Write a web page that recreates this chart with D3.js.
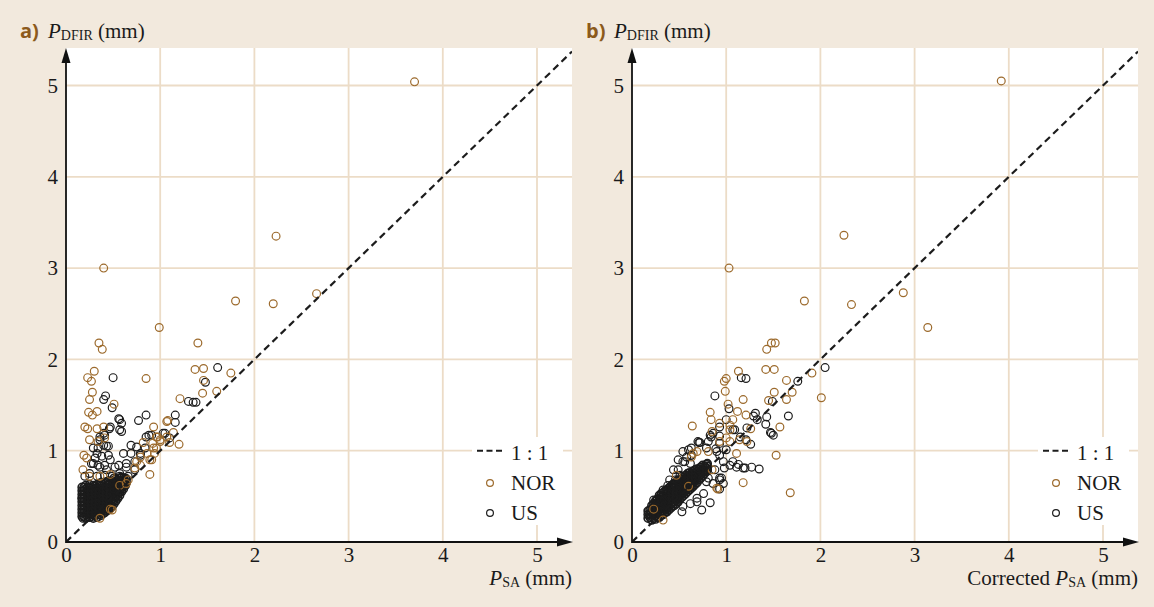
<!DOCTYPE html>
<html>
<head>
<meta charset="utf-8">
<script src="https://cdn.jsdelivr.net/npm/d3@7"></script>
<style>
    body { margin: 0; background: #f2e9dd; }
    svg { display: block; }
</style>
</head>
<body>
<div id="chart"></div>
<script>
//DATA
let xTicks = [0, 1, 2, 3, 4, 5];
let yTicks = [0, 1, 2, 3, 4, 5];
let legendLabels = ['1 : 1', 'NOR', 'US'];

// a) raw P_SA vs P_DFIR
let norA = [
    [3.70,5.04],[2.23,3.35],[0.40,3.00],[1.80,2.64],[2.20,2.61],[2.66,2.72],[0.99,2.35],[0.35,2.18],
    [0.385,2.11],[1.40,2.18],[1.37,1.89],[1.46,1.90],[1.75,1.85],[1.46,1.77],[0.30,1.87],[0.23,1.80],
    [0.27,1.76],[0.85,1.79],[0.28,1.64],[0.25,1.56],[0.51,1.51],[0.24,1.42],[0.28,1.39],[0.33,1.43],
    [1.21,1.57],[1.45,1.63],[1.60,1.65],[1.08,1.33],[0.93,1.26],[0.20,1.26],[0.23,1.24],[0.33,1.24],
    [0.40,1.26],[0.25,1.12],[0.34,1.10],[0.41,1.14],[0.96,1.15],[1.00,1.12],[1.07,1.15],[1.14,1.20],
    [1.20,1.07],[1.10,1.09],[0.82,1.09],[0.92,1.08],[0.96,1.03],[0.94,0.97],[0.91,0.90],[0.89,0.74],
    [0.75,0.88],[0.19,0.95],[0.22,0.92],[0.36,0.72],[0.47,0.74],[0.64,0.64],[0.49,0.35],[0.36,0.26],
    [0.47,0.36],[0.18,0.79],[0.25,0.72],[0.57,0.62],[0.66,0.68],[0.73,0.81],[0.79,0.84],[0.79,0.93],
    [0.86,0.97],[0.89,0.90],[0.93,1.03],[1.07,1.32],[0.97,1.15],[1.00,1.10]
];
let usA = [
    [0.50,1.80],[1.61,1.91],[1.48,1.75],[0.42,1.60],[0.40,1.56],[0.49,1.47],[0.56,1.35],[0.59,1.30],
    [0.57,1.23],[0.77,1.33],[0.85,1.39],[1.30,1.54],[1.35,1.53],[1.38,1.53],[1.16,1.39],[1.16,1.31],
    [0.46,1.24],[0.36,1.12],[0.41,1.17],[0.85,1.15],[0.88,1.17],[1.05,1.19],[0.61,0.97],[0.69,0.97],
    [0.75,1.04],[0.84,1.03],[0.69,1.06],[0.29,1.03],[0.34,1.03],[0.40,1.06],[0.45,1.05],[0.31,0.92],
    [0.38,0.94],[0.27,0.86],[0.34,0.84],[0.41,0.84],[0.47,0.90],[0.56,0.84],[0.64,0.82],[0.20,0.72],
    [0.25,0.75],[0.33,0.72],[0.41,0.73],[0.49,0.72],[0.57,0.72],[0.66,0.72],[0.73,0.79],[0.18,0.26],
    [0.57,1.34],[0.47,1.26],[0.59,1.21],[0.40,1.19],[0.36,1.15],[0.43,1.05],[0.33,0.97],[0.45,0.95],
    [0.29,0.86],[0.36,0.82],[0.43,0.79],[0.52,0.82],[0.79,0.97],[0.73,0.88],[0.64,0.86],[0.57,0.75],
    [0.91,1.17],[1.03,1.19],[1.10,1.14],[0.79,0.95],[0.17,0.48]
];
// dense core of US events near the origin (a)
let usCoreA = [
    [0.17,0.28],[0.17,0.32],[0.17,0.36],[0.17,0.40],[0.17,0.44],[0.17,0.48],[0.17,0.52],[0.17,0.56],[0.17,0.60],
    [0.21,0.26],[0.21,0.30],[0.21,0.34],[0.21,0.38],[0.21,0.42],[0.21,0.46],[0.21,0.50],[0.21,0.54],[0.21,0.58],[0.21,0.62],
    [0.25,0.27],[0.25,0.31],[0.25,0.35],[0.25,0.39],[0.25,0.43],[0.25,0.47],[0.25,0.51],[0.25,0.55],[0.25,0.59],[0.25,0.63],
    [0.29,0.26],[0.29,0.30],[0.29,0.34],[0.29,0.38],[0.29,0.42],[0.29,0.46],[0.29,0.50],[0.29,0.54],[0.29,0.58],[0.29,0.62],
    [0.33,0.27],[0.33,0.31],[0.33,0.35],[0.33,0.39],[0.33,0.43],[0.33,0.47],[0.33,0.51],[0.33,0.55],[0.33,0.59],[0.33,0.63],
    [0.37,0.29],[0.37,0.33],[0.37,0.37],[0.37,0.41],[0.37,0.45],[0.37,0.49],[0.37,0.53],[0.37,0.57],[0.37,0.61],[0.37,0.65],
    [0.41,0.32],[0.41,0.36],[0.41,0.40],[0.41,0.44],[0.41,0.48],[0.41,0.52],[0.41,0.56],[0.41,0.60],[0.41,0.64],
    [0.45,0.35],[0.45,0.39],[0.45,0.43],[0.45,0.47],[0.45,0.51],[0.45,0.55],[0.45,0.59],[0.45,0.63],[0.45,0.67],
    [0.49,0.39],[0.49,0.43],[0.49,0.47],[0.49,0.51],[0.49,0.55],[0.49,0.59],[0.49,0.63],[0.49,0.67],
    [0.53,0.45],[0.53,0.49],[0.53,0.53],[0.53,0.57],[0.53,0.61],[0.53,0.65],[0.53,0.69],
    [0.57,0.51],[0.57,0.55],[0.57,0.59],[0.57,0.63],[0.57,0.67],[0.57,0.70],
    [0.61,0.58],[0.61,0.62],[0.61,0.66],[0.61,0.70],
    [0.64,0.65],[0.64,0.69],
    [0.19,0.28],[0.19,0.32],[0.19,0.36],[0.19,0.40],[0.19,0.44],[0.19,0.48],[0.19,0.52],[0.19,0.56],[0.19,0.60],
    [0.23,0.28],[0.23,0.32],[0.23,0.36],[0.23,0.40],[0.23,0.44],[0.23,0.48],[0.23,0.52],[0.23,0.56],[0.23,0.60],
    [0.27,0.28],[0.27,0.32],[0.27,0.36],[0.27,0.40],[0.27,0.44],[0.27,0.48],[0.27,0.52],[0.27,0.56],[0.27,0.60],
    [0.31,0.29],[0.31,0.33],[0.31,0.37],[0.31,0.41],[0.31,0.45],[0.31,0.49],[0.31,0.53],[0.31,0.57],[0.31,0.61],
    [0.35,0.30],[0.35,0.34],[0.35,0.38],[0.35,0.42],[0.35,0.46],[0.35,0.50],[0.35,0.54],[0.35,0.58],[0.35,0.62],
    [0.39,0.31],[0.39,0.35],[0.39,0.39],[0.39,0.43],[0.39,0.47],[0.39,0.51],[0.39,0.55],[0.39,0.59],[0.39,0.63],
    [0.43,0.34],[0.43,0.38],[0.43,0.42],[0.43,0.46],[0.43,0.50],[0.43,0.54],[0.43,0.58],[0.43,0.62],[0.43,0.66],
    [0.47,0.37],[0.47,0.41],[0.47,0.45],[0.47,0.49],[0.47,0.53],[0.47,0.57],[0.47,0.61],[0.47,0.65],
    [0.51,0.42],[0.51,0.46],[0.51,0.50],[0.51,0.54],[0.51,0.58],[0.51,0.62],[0.51,0.66],[0.51,0.70],
    [0.55,0.48],[0.55,0.52],[0.55,0.56],[0.55,0.60],[0.55,0.64],[0.55,0.68],
    [0.59,0.55],[0.59,0.59],[0.59,0.63],[0.59,0.67],[0.59,0.71],
    [0.63,0.62],[0.63,0.66],[0.63,0.70]
];

// b) corrected P_SA vs P_DFIR
let norB = [
    [3.92,5.05],[2.25,3.36],[1.03,3.00],[1.83,2.64],[2.33,2.60],[2.88,2.73],[3.14,2.35],[1.91,1.85],
    [2.01,1.58],[1.43,2.11],[1.48,2.18],[1.52,2.18],[1.42,1.89],[1.51,1.89],[1.13,1.87],[1.00,1.79],
    [0.98,1.76],[1.64,1.77],[0.99,1.65],[1.18,1.56],[1.45,1.55],[1.51,1.64],[1.64,1.56],[1.70,1.64],
    [1.02,1.51],[1.12,1.43],[1.21,1.39],[1.57,1.26],[0.83,1.42],[0.84,1.34],[0.64,1.27],[0.93,1.30],
    [1.07,1.34],[1.26,1.24],[1.00,1.14],[1.04,1.23],[1.14,1.12],[1.53,0.95],[1.18,0.65],[1.68,0.54],
    [0.91,0.58],[0.63,0.93],[0.69,0.99],[0.47,0.73],[0.60,0.61],[0.85,0.79],[0.33,0.24],[0.23,0.36],
    [0.90,0.59],[0.85,1.21],[1.04,1.28],[1.04,1.10],[0.93,1.10],[0.81,0.99],[1.11,0.97],[1.22,1.10],
    [0.65,0.97]
];
let usB = [
    [2.05,1.91],[1.16,1.80],[1.21,1.79],[1.76,1.76],[0.88,1.60],[1.49,1.54],[1.03,1.46],[1.31,1.41],
    [1.43,1.37],[1.42,1.29],[1.66,1.38],[1.47,1.20],[1.50,1.17],[1.09,1.23],[1.21,1.12],[0.84,1.15],
    [0.93,1.16],[0.71,1.09],[1.26,1.07],[0.79,1.03],[0.89,1.02],[0.93,0.95],[1.13,0.85],[1.20,0.81],
    [1.27,0.82],[1.35,0.80],[1.07,0.88],[0.97,0.88],[0.98,0.81],[0.88,0.79],[0.93,0.70],[0.97,0.64],
    [0.83,0.43],[0.74,0.35],[0.69,0.44],[0.54,0.99],[0.63,1.03],[0.70,1.10],[0.58,0.93],[0.54,0.88],
    [0.62,0.86],[0.49,0.79],[0.53,0.72],[0.46,0.68],[0.38,0.62],[0.37,0.57],[0.53,0.33],[0.95,0.70],
    [0.93,0.58],[0.81,0.70],[0.40,0.68],[0.44,0.61],[0.30,0.50],[0.23,0.46],[1.29,1.38],[1.33,1.34],
    [1.48,1.19],[1.04,0.84],[1.11,0.82],[1.18,0.81],[0.60,1.01],[0.63,0.95],[0.72,1.09],[0.49,0.90],
    [0.56,0.88],[0.44,0.79],[0.51,0.73],[0.33,0.57],[0.30,0.42],[0.23,0.39],[0.19,0.30],[0.26,0.46],
    [0.79,0.66],[0.86,0.64],[0.93,0.68],[0.76,0.53],[0.69,0.48],[0.62,0.42],[0.54,0.39],[0.83,1.17],
    [0.81,1.10],[0.86,1.19],[0.93,1.26],[1.00,1.34],[1.07,1.23],[1.15,1.15],[1.22,1.25],[0.93,1.08],
    [1.00,1.01],[0.90,0.99]
];
// dense core of US events near the origin (b)
let usCoreB = [
    [0.17,0.26],[0.17,0.30],[0.17,0.34],
    [0.21,0.24],[0.21,0.28],[0.21,0.32],[0.21,0.36],[0.21,0.40],
    [0.25,0.25],[0.25,0.29],[0.25,0.33],[0.25,0.37],[0.25,0.41],[0.25,0.45],
    [0.29,0.27],[0.29,0.31],[0.29,0.35],[0.29,0.39],[0.29,0.43],[0.29,0.47],[0.29,0.51],
    [0.33,0.30],[0.33,0.34],[0.33,0.38],[0.33,0.42],[0.33,0.46],[0.33,0.50],[0.33,0.54],
    [0.37,0.33],[0.37,0.37],[0.37,0.41],[0.37,0.45],[0.37,0.49],[0.37,0.53],[0.37,0.57],
    [0.41,0.37],[0.41,0.41],[0.41,0.45],[0.41,0.49],[0.41,0.53],[0.41,0.57],[0.41,0.61],
    [0.45,0.40],[0.45,0.44],[0.45,0.48],[0.45,0.52],[0.45,0.56],[0.45,0.60],[0.45,0.64],
    [0.49,0.44],[0.49,0.48],[0.49,0.52],[0.49,0.56],[0.49,0.60],[0.49,0.64],[0.49,0.68],
    [0.53,0.49],[0.53,0.53],[0.53,0.57],[0.53,0.61],[0.53,0.65],[0.53,0.69],
    [0.57,0.53],[0.57,0.57],[0.57,0.61],[0.57,0.65],[0.57,0.69],[0.57,0.73],
    [0.61,0.57],[0.61,0.61],[0.61,0.65],[0.61,0.69],[0.61,0.73],[0.61,0.76],
    [0.65,0.61],[0.65,0.65],[0.65,0.69],[0.65,0.73],[0.65,0.77],
    [0.69,0.65],[0.69,0.69],[0.69,0.73],[0.69,0.77],[0.69,0.80],
    [0.73,0.70],[0.73,0.74],[0.73,0.78],[0.73,0.82],
    [0.77,0.75],[0.77,0.79],[0.77,0.83],
    [0.80,0.79],[0.80,0.83],[0.80,0.86],
    [0.19,0.27],[0.19,0.31],[0.19,0.35],
    [0.23,0.26],[0.23,0.30],[0.23,0.34],[0.23,0.38],[0.23,0.42],
    [0.27,0.27],[0.27,0.31],[0.27,0.35],[0.27,0.39],[0.27,0.43],[0.27,0.47],
    [0.31,0.29],[0.31,0.33],[0.31,0.37],[0.31,0.41],[0.31,0.45],[0.31,0.49],[0.31,0.53],
    [0.35,0.32],[0.35,0.36],[0.35,0.40],[0.35,0.44],[0.35,0.48],[0.35,0.52],[0.35,0.56],
    [0.39,0.35],[0.39,0.39],[0.39,0.43],[0.39,0.47],[0.39,0.51],[0.39,0.55],[0.39,0.59],
    [0.43,0.39],[0.43,0.43],[0.43,0.47],[0.43,0.51],[0.43,0.55],[0.43,0.59],[0.43,0.63],
    [0.47,0.42],[0.47,0.46],[0.47,0.50],[0.47,0.54],[0.47,0.58],[0.47,0.62],[0.47,0.66],
    [0.51,0.47],[0.51,0.51],[0.51,0.55],[0.51,0.59],[0.51,0.63],[0.51,0.67],
    [0.55,0.51],[0.55,0.55],[0.55,0.59],[0.55,0.63],[0.55,0.67],[0.55,0.71],
    [0.59,0.55],[0.59,0.59],[0.59,0.63],[0.59,0.67],[0.59,0.71],[0.59,0.75],
    [0.63,0.59],[0.63,0.63],[0.63,0.67],[0.63,0.71],[0.63,0.75],
    [0.67,0.63],[0.67,0.67],[0.67,0.71],[0.67,0.75],[0.67,0.79],
    [0.71,0.68],[0.71,0.72],[0.71,0.76],[0.71,0.80],
    [0.75,0.72],[0.75,0.76],[0.75,0.80],[0.75,0.84],
    [0.79,0.77],[0.79,0.81],[0.79,0.85]
];

//VARIABLES
let W = 1154, H = 607;
let colorNor = '#9c6a2c', colorUs = '#1c1c1c', colorGrid = '#ecdcc7', colorLetter = '#8c5a1c';
let serif = '"Liberation Serif", "Times New Roman", serif';
let plotTop = 48, plotBottom = 542;

let svg = d3.select('#chart').append('svg')
    .attr('width', W)
    .attr('height', H);

svg.append('rect').attr('width', W).attr('height', H).attr('fill', '#f2e9dd');

let defs = svg.append('defs');

//INIT
drawPanel({id: 'a', left: 66, right: 572, letter: 'a)', xPrefix: '', nor: norA, us: usA, core: usCoreA});
drawPanel({id: 'b', left: 632, right: 1138, letter: 'b)', xPrefix: 'Corrected ', nor: norB, us: usB, core: usCoreB});

//FUNCTIONS
function drawPanel(p) {
    let x = d3.scaleLinear().domain([0, (p.right - p.left) / 94.2]).range([p.left, p.right]);
    let y = d3.scaleLinear().domain([0, (plotBottom - plotTop) / 91.3]).range([plotBottom, plotTop]);
    let g = svg.append('g');

    //white plot area
    g.append('rect')
        .attr('x', p.left).attr('y', plotTop)
        .attr('width', p.right - p.left).attr('height', plotBottom - plotTop)
        .attr('fill', '#fff');

    defs.append('clipPath').attr('id', 'clip_' + p.id)
        .append('rect')
        .attr('x', p.left).attr('y', plotTop)
        .attr('width', p.right - p.left).attr('height', plotBottom - plotTop);

    //Grid
    g.selectAll('.vgrid')
        .data(xTicks.filter(function(d) { return d > 0; }))
        .enter().append('line')
        .attr('x1', function(d) { return x(d); }).attr('x2', function(d) { return x(d); })
        .attr('y1', plotTop).attr('y2', plotBottom)
        .attr('stroke', colorGrid).attr('stroke-width', 1.8);
    g.selectAll('.hgrid')
        .data(yTicks.filter(function(d) { return d > 0; }))
        .enter().append('line')
        .attr('y1', function(d) { return y(d); }).attr('y2', function(d) { return y(d); })
        .attr('x1', p.left).attr('x2', p.right)
        .attr('stroke', colorGrid).attr('stroke-width', 1.8);

    //Points
    let pts = g.append('g').attr('clip-path', 'url(#clip_' + p.id + ')');
    pts.selectAll('.core')
        .data(p.core)
        .enter().append('circle')
        .attr('cx', function(d) { return x(d[0]); })
        .attr('cy', function(d) { return y(d[1]); })
        .attr('r', 3.9)
        .attr('fill', 'none').attr('stroke', colorUs).attr('stroke-width', 1.6);
    pts.selectAll('.us')
        .data(p.us)
        .enter().append('circle')
        .attr('cx', function(d) { return x(d[0]); })
        .attr('cy', function(d) { return y(d[1]); })
        .attr('r', 3.9)
        .attr('fill', 'none').attr('stroke', colorUs).attr('stroke-width', 1.2);
    pts.selectAll('.nor')
        .data(p.nor)
        .enter().append('circle')
        .attr('cx', function(d) { return x(d[0]); })
        .attr('cy', function(d) { return y(d[1]); })
        .attr('r', 3.9)
        .attr('fill', 'none').attr('stroke', colorNor).attr('stroke-width', 1.2);

    //1:1 line
    let maxV = x.domain()[1];
    pts.append('line')
        .attr('x1', x(0)).attr('y1', y(0))
        .attr('x2', x(maxV)).attr('y2', y(maxV))
        .attr('stroke', colorUs).attr('stroke-width', 2.2)
        .attr('stroke-dasharray', '7,4.5');

    //Legend
    let lx = p.right - 100, ly = 437;
    let leg = g.append('g');
    leg.append('rect')
        .attr('x', lx).attr('y', ly)
        .attr('width', 91).attr('height', 88)
        .attr('fill', '#fff');
    leg.append('line')
        .attr('x1', lx + 5).attr('x2', lx + 31)
        .attr('y1', y(1)).attr('y2', y(1))
        .attr('stroke', colorUs).attr('stroke-width', 2)
        .attr('stroke-dasharray', '6,3.5');
    leg.append('circle').attr('cx', lx + 18).attr('cy', ly + 46).attr('r', 3.4)
        .attr('fill', 'none').attr('stroke', colorNor).attr('stroke-width', 1.2);
    leg.append('circle').attr('cx', lx + 18).attr('cy', ly + 76).attr('r', 3.4)
        .attr('fill', 'none').attr('stroke', colorUs).attr('stroke-width', 1.2);
    leg.selectAll('.ltxt')
        .data(legendLabels)
        .enter().append('text')
        .attr('x', lx + 39)
        .attr('y', function(d, i) { return ly + 23 + i * 30; })
        .attr('font-family', serif).attr('font-size', 21).attr('fill', '#1a1a1a')
        .text(function(d) { return d; });

    //Axes
    let xAxis = g.append('g')
        .attr('transform', 'translate(0,' + plotBottom + ')')
        .call(d3.axisBottom(x).tickValues(xTicks).tickFormat(d3.format('d')).tickSize(0).tickPadding(5));
    xAxis.select('.domain').remove();
    xAxis.selectAll('text').attr('font-family', serif).attr('font-size', 21).attr('fill', '#1a1a1a');

    let yAxis = g.append('g')
        .attr('transform', 'translate(' + p.left + ',0)')
        .call(d3.axisLeft(y).tickValues(yTicks).tickFormat(d3.format('d')).tickSize(0).tickPadding(8));
    yAxis.select('.domain').remove();
    yAxis.selectAll('text').attr('font-family', serif).attr('font-size', 21).attr('fill', '#1a1a1a');

    g.append('line')
        .attr('x1', p.left).attr('x2', p.right - 14)
        .attr('y1', plotBottom).attr('y2', plotBottom)
        .attr('stroke', '#111').attr('stroke-width', 1.8);
    g.append('path')
        .attr('d', 'M' + (p.right + 1) + ',' + plotBottom + 'L' + (p.right - 15) + ',' + (plotBottom - 4.5) + 'L' + (p.right - 15) + ',' + (plotBottom + 4.5) + 'Z')
        .attr('fill', '#111');
    g.append('line')
        .attr('x1', p.left).attr('x2', p.left)
        .attr('y1', plotBottom + 1).attr('y2', plotTop + 12)
        .attr('stroke', '#111').attr('stroke-width', 1.8);
    g.append('path')
        .attr('d', 'M' + p.left + ',' + plotTop + 'L' + (p.left - 4.5) + ',' + (plotTop + 15) + 'L' + (p.left + 4.5) + ',' + (plotTop + 15) + 'Z')
        .attr('fill', '#111');

    //Titles
    g.append('text')
        .attr('x', p.left - 46).attr('y', 38)
        .attr('font-family', '"Open Sans", sans-serif').attr('font-weight', 700)
        .attr('font-size', 20).attr('fill', colorLetter)
        .text(p.letter);

    let yt = g.append('text')
        .attr('x', p.left - 18).attr('y', 38)
        .attr('font-family', serif).attr('font-size', 21).attr('fill', '#1a1a1a');
    yt.append('tspan').attr('font-style', 'italic').text('P');
    yt.append('tspan').attr('font-size', 14).attr('dy', 2).text('DFIR');
    yt.append('tspan').attr('dy', -2).text(' (mm)');

    let xt = g.append('text')
        .attr('x', p.right).attr('y', 585)
        .attr('text-anchor', 'end')
        .attr('font-family', serif).attr('font-size', 21).attr('fill', '#1a1a1a');
    if (p.xPrefix) xt.append('tspan').text(p.xPrefix);
    xt.append('tspan').attr('font-style', 'italic').text('P');
    xt.append('tspan').attr('font-size', 14).attr('dy', 2).text('SA');
    xt.append('tspan').attr('dy', -2).text(' (mm)');
}
</script>
</body>
</html>
